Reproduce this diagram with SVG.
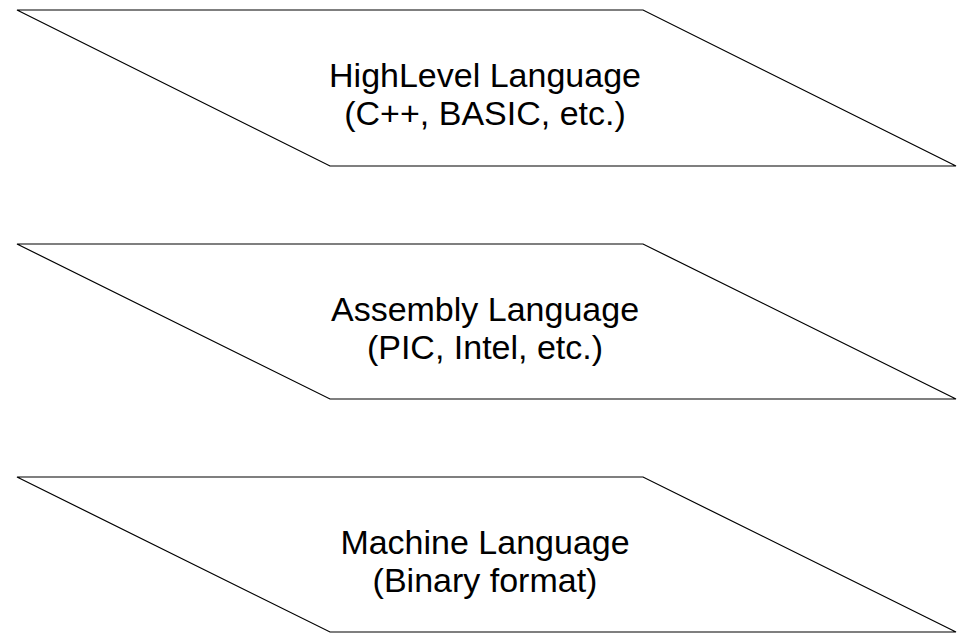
<svg xmlns="http://www.w3.org/2000/svg" width="963" height="633" viewBox="0 0 963 633">
<style>
.shape{fill:#ffffff;stroke:#000000;stroke-width:1.2}
.lbl{font-family:"Liberation Sans",Arial,sans-serif;font-size:34px;fill:#000000;text-anchor:middle}
</style>
<rect width="963" height="633" fill="#ffffff"/>
<g id="node-highlevel">
<polygon class="shape" points="17,10 643,10 956,166 330,166"/>
<text class="lbl" x="485" y="87">HighLevel Language</text>
<text class="lbl" x="485" y="125">(C++, BASIC, etc.)</text>
</g>
<g id="node-assembly">
<polygon class="shape" points="17,244 643,244 956,399 330,399"/>
<text class="lbl" x="485" y="321">Assembly Language</text>
<text class="lbl" x="485" y="359">(PIC, Intel, etc.)</text>
</g>
<g id="node-machine">
<polygon class="shape" points="17,477 643,477 956,632 330,632"/>
<text class="lbl" x="485" y="554">Machine Language</text>
<text class="lbl" x="485" y="592">(Binary format)</text>
</g>
<g id="connectors"></g>
</svg>
